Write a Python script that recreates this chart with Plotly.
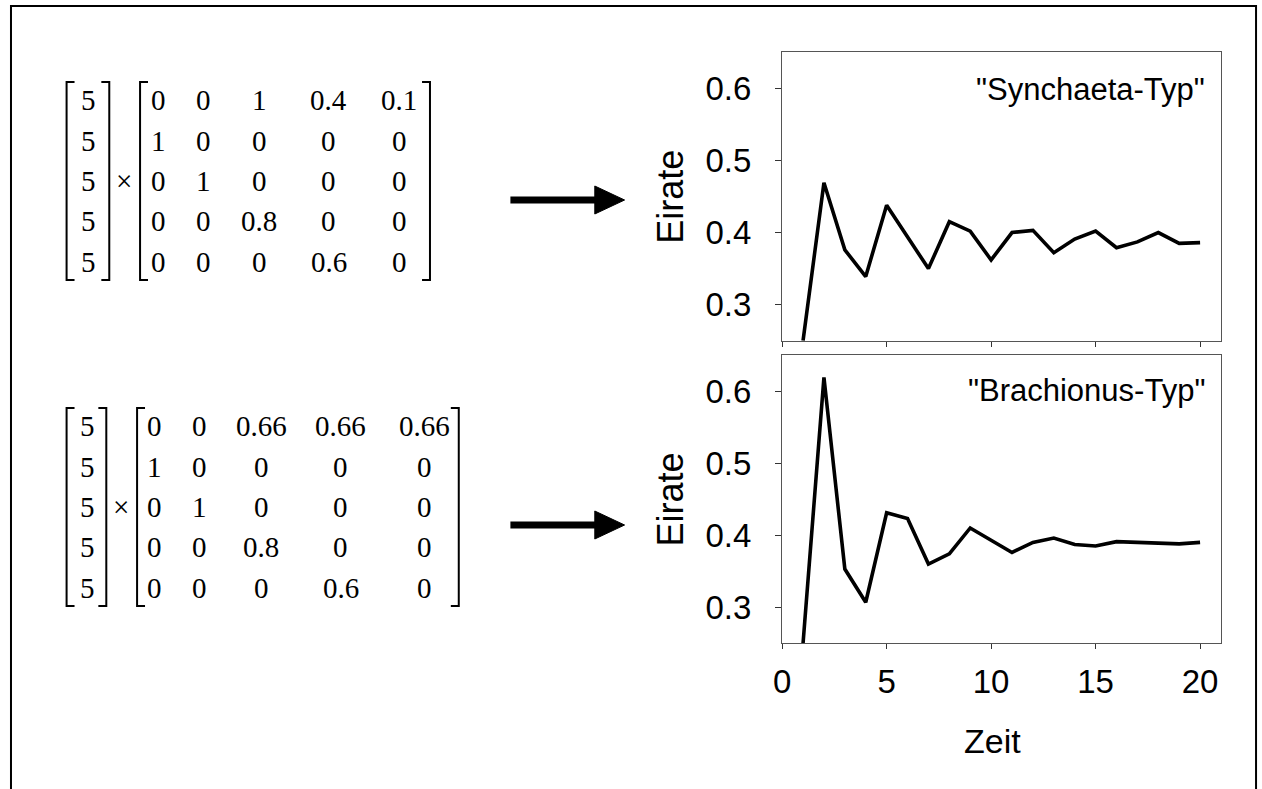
import plotly.graph_objects as go

W, H = 1262, 789

# ---- data ----
zeit = list(range(1, 21))
synchaeta = [0.25, 0.469, 0.376, 0.339, 0.438, 0.394, 0.350, 0.415, 0.402, 0.362,
             0.400, 0.403, 0.372, 0.391, 0.402, 0.379, 0.387, 0.400, 0.385, 0.386]
brachionus = [0.25, 0.619, 0.353, 0.307, 0.431, 0.423, 0.360, 0.374, 0.410, 0.393,
              0.376, 0.390, 0.396, 0.387, 0.385, 0.391, 0.390, 0.388, 0.388, 0.390]
y_ticks = [0.3, 0.4, 0.5, 0.6]
x_ticks = [0, 5, 10, 15, 20]

start_vector = ["5", "5", "5", "5", "5"]
matrix_synchaeta = [["0", "0", "1", "0.4", "0.1"],
                    ["1", "0", "0", "0", "0"],
                    ["0", "1", "0", "0", "0"],
                    ["0", "0", "0.8", "0", "0"],
                    ["0", "0", "0", "0.6", "0"]]
matrix_brachionus = [["0", "0", "0.66", "0.66", "0.66"],
                     ["1", "0", "0", "0", "0"],
                     ["0", "1", "0", "0", "0"],
                     ["0", "0", "0.8", "0", "0"],
                     ["0", "0", "0", "0.6", "0"]]
labels = ['"Synchaeta-Typ"', '"Brachionus-Typ"']


def px(x):
    return x / W


def py(y):
    return 1 - y / H


fig = go.Figure()
fig.add_trace(go.Scatter(x=zeit, y=synchaeta, mode="lines",
                         line=dict(color="black", width=3.6), xaxis="x", yaxis="y",
                         showlegend=False))
fig.add_trace(go.Scatter(x=zeit, y=brachionus, mode="lines",
                         line=dict(color="black", width=3.6), xaxis="x2", yaxis="y2",
                         showlegend=False))

tick_font = dict(family="Liberation Sans, Arial", size=33, color="black")
axis_common = dict(showgrid=False, zeroline=False, showline=True, mirror=True,
                   linecolor="#555555", linewidth=1.3, ticks="outside",
                   tickcolor="#333333", tickwidth=1.2, tickfont=tick_font)

x_dom = [px(778.7), px(1220.7)]
top_dom = [py(340.7), py(52.3)]
bot_dom = [py(643.3), py(355)]

fig.update_layout(
    width=W, height=H, margin=dict(l=0, r=0, t=0, b=0),
    paper_bgcolor="white", plot_bgcolor="white",
    xaxis=dict(domain=x_dom, range=[0, 21], tickvals=x_ticks, showticklabels=False,
               anchor="y", ticklen=5, **axis_common),
    yaxis=dict(domain=top_dom, range=[0.25, 0.65], tickvals=y_ticks, anchor="x",
               ticklen=6, ticklabelstandoff=17, **axis_common),
    xaxis2=dict(domain=x_dom, range=[0, 21], tickvals=x_ticks, anchor="y2",
                ticklen=5, ticklabelstandoff=4, **axis_common),
    yaxis2=dict(domain=bot_dom, range=[0.25, 0.65], tickvals=y_ticks, anchor="x2",
                ticklen=6, ticklabelstandoff=17, **axis_common),
)

ann = []
shapes = []
title_font = dict(family="Liberation Sans, Arial", size=36, color="black")
# axis titles
for yc in [(52.3 + 340.7) / 2, (355 + 643.3) / 2]:
    ann.append(dict(text="Eirate", x=px(666), y=py(yc), xref="paper", yref="paper",
                    textangle=-90, showarrow=False, font=title_font,
                    xanchor="center", yanchor="middle"))
ann.append(dict(text="Zeit", x=px(991), y=py(741), xref="paper", yref="paper",
                showarrow=False, font=dict(family="Liberation Sans, Arial", size=34, color="black"),
                xanchor="center", yanchor="middle"))
# panel labels
for lab, yc in zip(labels, [90, 390]):
    ann.append(dict(text=lab, x=px(1207), y=py(yc), xref="paper", yref="paper",
                    showarrow=False, xanchor="right", yanchor="middle",
                    font=dict(family="Liberation Sans, Arial", size=31, color="black")))

# matrices
serif = dict(family="Liberation Serif, Times New Roman", size=29, color="black")


def bracket(x, y0, y1, side):
    d = 8 if side == "left" else -8
    path = f"M {px(x + d)} {py(y0)} L {px(x)} {py(y0)} L {px(x)} {py(y1)} L {px(x + d)} {py(y1)}"
    shapes.append(dict(type="path", path=path, xref="paper", yref="paper",
                       line=dict(color="black", width=2)))


layouts = [
    dict(mat=matrix_synchaeta, rows=[100, 141, 181, 221, 262], br=(82, 280),
         vl=58, vr=101, vx=80, times=116, ml=132, mr=424,
         cols=[151, 196, 252, 322, 393], arrow_y=200),
    dict(mat=matrix_brachionus, rows=[426, 467, 507, 547, 588], br=(408, 606),
         vl=58, vr=98, vx=79, times=113, ml=129, mr=453,
         cols=[147, 192, 254, 334, 418], arrow_y=525),
]

for L in layouts:
    for r, v in zip(L["rows"], start_vector):
        ann.append(dict(text=v, x=px(L["vx"]), y=py(r), xref="paper", yref="paper",
                        showarrow=False, font=serif, xanchor="center", yanchor="middle"))
    for r, row in zip(L["rows"], L["mat"]):
        for c, v in zip(L["cols"], row):
            ann.append(dict(text=v, x=px(c), y=py(r), xref="paper", yref="paper",
                            showarrow=False, font=serif, xanchor="center", yanchor="middle"))
    ann.append(dict(text="×", x=px(L["times"]), y=py(L["rows"][2]), xref="paper", yref="paper",
                    showarrow=False, font=serif, xanchor="center", yanchor="middle"))
    y0, y1 = L["br"]
    bracket(L["vl"], y0, y1, "left")
    bracket(L["vr"], y0, y1, "right")
    bracket(L["ml"], y0, y1, "left")
    bracket(L["mr"], y0, y1, "right")
    ay = L["arrow_y"]
    shapes.append(dict(type="line", x0=px(505), x1=px(592), y0=py(ay), y1=py(ay),
                       xref="paper", yref="paper", line=dict(color="black", width=7)))
    tri = f"M {px(590)} {py(ay - 14)} L {px(620)} {py(ay)} L {px(590)} {py(ay + 14)} Z"
    shapes.append(dict(type="path", path=tri, xref="paper", yref="paper",
                       fillcolor="black", line=dict(color="black", width=1)))

# outer frame
frame = f"M {px(2)} {py(800)} L {px(2)} {py(6)} L {px(1256)} {py(6)} L {px(1256)} {py(800)}"
shapes.append(dict(type="path", path=frame, xref="paper", yref="paper",
                   line=dict(color="black", width=2)))

fig.update_layout(annotations=ann, shapes=shapes)
fig.write_html("out.html", config={"displayModeBar": False},
               post_script="document.body.style.margin='0px';")
